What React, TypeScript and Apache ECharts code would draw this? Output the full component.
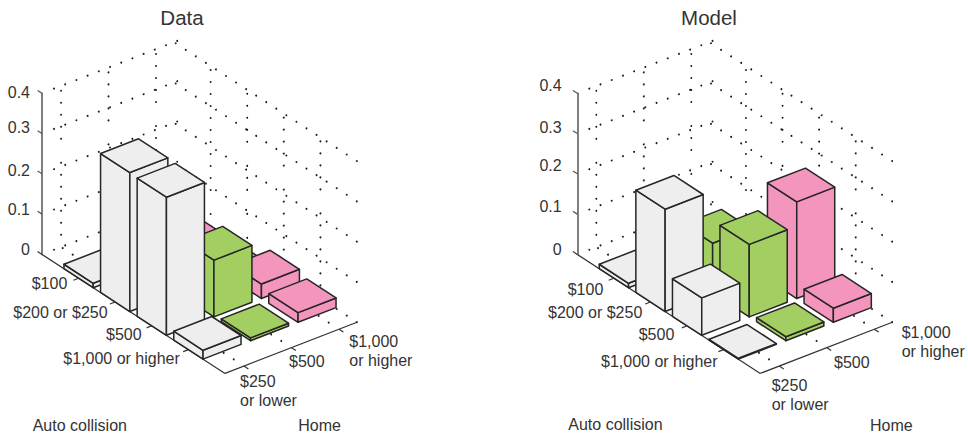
import React, { useEffect, useRef } from "react";
import * as echarts from "echarts";

// ---- categories and tick labels
const panelTitles = ["Data", "Model"];
const autoCategories = ["$100", "$200 or $250", "$500", "$1,000 or higher"];
const homeCategories = ["$250\nor lower", "$500", "$1,000\nor higher"];
const zTicks = [0, 0.1, 0.2, 0.3, 0.4];
const zTickLabels = ["0", "0.1", "0.2", "0.3", "0.4"];
const autoAxisName = "Auto collision";
const homeAxisName = "Home";

// ---- values: one entry per auto-collision category
const dataHome250 = [0.011, 0.345, 0.343, 0.022];
const dataHome500 = [0.02, 0.06, 0.141, 0.007];
const dataHome1000 = [0.001, 0.001, 0.036, 0.024];
const modelHome250 = [0.011, 0.254, 0.093, 0.002];
const modelHome500 = [0.02, 0.124, 0.18, 0.01];
const modelHome1000 = [0, 0.035, 0.24, 0.035];

const barColors = ["#eeeeee", "#a3cf62", "#f495bd"];

// ---- oblique projection on top of each grid's own scales
const HOME_MIN = 0.6;
const HOME_MAX = 3.379;
const AUTO_MAX = 5;
const AUTO_DROP = 23.8;
const HOME_DX = 47.5;
const HOME_DY = -18.4;
const HALF = 0.4;
const PANEL_LEFT = [42, 577.3];
const FONT = '"Liberation Sans", Arial, sans-serif';
const TEXT = "#333333";
const LINE = "#262626";

function project(api: any, i: number, j: number, z: number): number[] {
  const p = api.coord([i, z]);
  return [p[0] + (j - HOME_MIN) * HOME_DX, p[1] + i * AUTO_DROP + (j - HOME_MIN) * HOME_DY];
}

function renderBar(_: any, api: any) {
  const i = api.value(0);
  const j = api.value(1);
  const z = api.value(2);
  const fill = barColors[api.value(3)];
  if (!(z > 0)) return { type: "group", children: [] };
  const corner = (a: number, b: number, h: number) =>
    project(api, i + a * HALF, j + b * HALF, h);
  const style = { fill, stroke: LINE, lineWidth: 1.5, lineJoin: "round" };
  const poly = (pts: number[][]) => ({ type: "polygon", shape: { points: pts }, style });
  return {
    type: "group",
    children: [
      poly([corner(-1, -1, 0), corner(1, -1, 0), corner(1, -1, z), corner(-1, -1, z)]),
      poly([corner(1, -1, 0), corner(1, 1, 0), corner(1, 1, z), corner(1, -1, z)]),
      poly([corner(-1, -1, z), corner(1, -1, z), corner(1, 1, z), corner(-1, 1, z)]),
    ],
  };
}

function renderDot(_: any, api: any) {
  const p = project(api, api.value(0), api.value(1), api.value(2));
  return { type: "circle", shape: { cx: p[0], cy: p[1], r: 0.95 }, style: { fill: "#1a1a1a" } };
}

function renderSegment(_: any, api: any) {
  const a = project(api, api.value(0), api.value(1), api.value(2));
  const b = project(api, api.value(3), api.value(4), api.value(5));
  return {
    type: "line",
    shape: { x1: a[0], y1: a[1], x2: b[0], y2: b[1] },
    style: { stroke: api.value(6) ? "#555555" : "#333333", lineWidth: 1.2 },
  };
}

function gridDots(): number[][] {
  const out: number[][] = [];
  const autoStep = (k: number) => 0.046 + 0.2749 * k;
  // wall along the home axis: rows and columns
  for (const z of zTicks) {
    for (let k = 0; k < 12; k++) out.push([0, HOME_MIN + 0.2526 + 0.2358 * k, z]);
  }
  for (const j of [1, 2, 3]) {
    for (let k = 0; k < 14; k++) out.push([0, j, 0.388 - 0.0298 * k]);
  }
  // wall along the auto axis: rows and columns
  for (const z of zTicks) {
    for (let k = 0; k < 19; k++) out.push([autoStep(k), HOME_MAX, z]);
  }
  for (const i of [1, 2, 3, 4]) {
    for (let k = 0; k < 14; k++) out.push([i, HOME_MAX, 0.39 - 0.0298 * k]);
  }
  // floor lines
  for (const j of [1, 2, 3]) {
    for (let k = 0; k < 18; k++) out.push([autoStep(k), j, 0]);
  }
  return out;
}

function frameSegments(): number[][] {
  const out: number[][] = [
    [0, HOME_MIN, 0, AUTO_MAX, HOME_MIN, 0, 0],
    [AUTO_MAX, HOME_MIN, 0, AUTO_MAX, HOME_MAX, 0, 0],
  ];
  for (const z of zTicks) out.push([0, HOME_MIN, z, -0.12, HOME_MIN, z, z > 0 ? 1 : 0]);
  for (const i of [1, 2, 3, 4]) out.push([i, HOME_MIN, 0, i, HOME_MIN - 0.11, 0, 0]);
  for (const j of [1, 2, 3]) out.push([AUTO_MAX, j, 0, AUTO_MAX + 0.12, j, 0, 0]);
  return out;
}

function barRows(columns: number[][]): number[][] {
  const rows: number[][] = [];
  for (let i = 0; i < autoCategories.length; i++) {
    for (let j = columns.length - 1; j >= 0; j--) {
      rows.push([i + 1, j + 1, columns[j][i], j]);
    }
  }
  return rows;
}

// ---- label placement: [x, centre y] per panel
const zLabelPos = [
  [30, 249.3, 209, 170, 127.7, 92.7],
  [561.7, 249, 206.7, 165, 127.3, 85.7],
];
const autoLabelPos = [
  [[31.7, 283.3], [13.3, 312.3], [106, 334.3], [63.3, 358.3]],
  [[567.7, 289.3], [548, 312.3], [638.7, 334.3], [601, 361.7]],
];
const homeLabelPos = [
  [[240, 381.7], [289, 361.7], [349.3, 341.7]],
  [[771.7, 385], [834, 362.7], [901.7, 332.3]],
];
const axisNamePos = [
  [[32.7, 425.7], [298.3, 425.7]],
  [[568.3, 424], [870, 425]],
];
const titlePos = [[182, 17], [709, 17]];

function label(text: string, x: number, cy: number, size = 16, align = "left") {
  return {
    type: "text",
    silent: true,
    x,
    y: cy - 9.5,
    style: {
      text,
      fill: TEXT,
      fontFamily: FONT,
      fontSize: size,
      lineHeight: 19,
      align,
      textAlign: align,
      verticalAlign: "top",
      textVerticalAlign: "top",
    },
  };
}

function buildLabels() {
  const out: any[] = [];
  for (let p = 0; p < 2; p++) {
    out.push(label(panelTitles[p], titlePos[p][0], titlePos[p][1], 20.5, "center"));
    zTickLabels.forEach((t, n) =>
      out.push(label(t, zLabelPos[p][0], zLabelPos[p][n + 1], 16, "right"))
    );
    autoCategories.forEach((t, n) => out.push(label(t, autoLabelPos[p][n][0], autoLabelPos[p][n][1])));
    homeCategories.forEach((t, n) => out.push(label(t, homeLabelPos[p][n][0], homeLabelPos[p][n][1])));
    out.push(label(autoAxisName, axisNamePos[p][0][0], axisNamePos[p][0][1]));
    out.push(label(homeAxisName, axisNamePos[p][1][0], axisNamePos[p][1][1]));
  }
  return out;
}

function buildOption() {
  const panels = [
    [dataHome250, dataHome500, dataHome1000],
    [modelHome250, modelHome500, modelHome1000],
  ];
  const dots = gridDots();
  const frame = frameSegments();
  const series: any[] = [];
  panels.forEach((cols, p) => {
    const axisRef = { xAxisIndex: p, yAxisIndex: p, silent: true, clip: false };
    series.push({ ...axisRef, type: "custom", name: panelTitles[p] + " grid", renderItem: renderDot, encode: { x: 0, y: 2 }, data: dots });
    series.push({ ...axisRef, type: "custom", name: panelTitles[p] + " axes", renderItem: renderSegment, encode: { x: 0, y: 2 }, data: frame });
    series.push({ ...axisRef, type: "custom", name: panelTitles[p], renderItem: renderBar, encode: { x: 0, y: 2 }, data: barRows(cols) });
  });
  return {
    animation: false,
    backgroundColor: "#ffffff",
    grid: PANEL_LEFT.map((left) => ({ left, top: 93.3, width: 183, height: 161.1 })),
    xAxis: PANEL_LEFT.map((_, g) => ({ type: "value", gridIndex: g, min: 0, max: AUTO_MAX, show: false })),
    yAxis: PANEL_LEFT.map((_, g) => ({
      type: "value",
      gridIndex: g,
      min: 0,
      max: 0.4,
      interval: 0.1,
      axisLine: { show: true, lineStyle: { color: "#555555", width: 1.5 } },
      axisTick: { show: false },
      axisLabel: { show: false },
      splitLine: { show: false },
    })),
    graphic: { elements: buildLabels() },
    series,
  };
}

export default function App() {
  const ref = useRef<HTMLDivElement>(null);
  useEffect(() => {
    document.body.style.margin = "0";
    const chart = echarts.init(ref.current!, undefined, { renderer: "svg" });
    chart.setOption(buildOption() as any);
    return () => chart.dispose();
  }, []);
  return <div ref={ref} style={{ width: 968, height: 436 }} />;
}
